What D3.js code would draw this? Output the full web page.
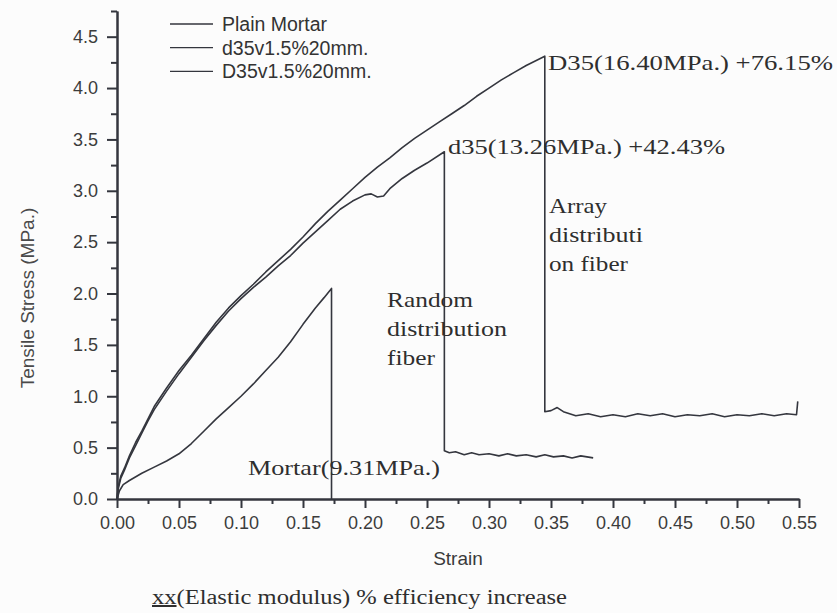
<!DOCTYPE html>
<html>
<head>
<meta charset="utf-8">
<script src="https://cdn.jsdelivr.net/npm/d3@7"></script>
<style>
  html, body { margin: 0; padding: 0; background: #fcfcfc; }
  svg { display: block; }
</style>
</head>
<body>
<svg id="chart" width="837" height="613"></svg>
<script>
// ── Data ─────────────────────────────────────────────
const mortarStrain = [0, 0.002, 0.005, 0.01, 0.02, 0.03, 0.04, 0.05, 0.06, 0.07, 0.08, 0.09, 0.10,
                      0.11, 0.12, 0.13, 0.14, 0.15, 0.16, 0.167, 0.173, 0.173];
const mortarStress = [0, 0.08, 0.14, 0.18, 0.25, 0.31, 0.37, 0.44, 0.54, 0.66, 0.78, 0.89, 1.00,
                      1.12, 1.25, 1.38, 1.53, 1.70, 1.86, 1.96, 2.05, 0];

const randomStrain = [0, 0.001, 0.003, 0.006, 0.01, 0.015, 0.02, 0.025, 0.03, 0.035, 0.04, 0.05,
                      0.06, 0.07, 0.08, 0.09, 0.10, 0.11, 0.12, 0.13, 0.14, 0.15, 0.16, 0.17,
                      0.18, 0.19, 0.20, 0.205, 0.21, 0.215, 0.22, 0.23, 0.24, 0.25, 0.264,
                      0.264, 0.268, 0.273, 0.28, 0.286, 0.292, 0.30, 0.308, 0.315, 0.322, 0.33,
                      0.338, 0.345, 0.352, 0.36, 0.367, 0.374, 0.384];
const randomStress = [0, 0.10, 0.20, 0.28, 0.40, 0.52, 0.64, 0.76, 0.87, 0.96, 1.05, 1.22,
                      1.38, 1.54, 1.69, 1.83, 1.95, 2.06, 2.16, 2.27, 2.37, 2.49, 2.60, 2.71,
                      2.82, 2.90, 2.96, 2.97, 2.94, 2.95, 3.02, 3.12, 3.20, 3.27, 3.38,
                      0.47, 0.45, 0.46, 0.43, 0.45, 0.43, 0.44, 0.42, 0.44, 0.42, 0.43,
                      0.41, 0.43, 0.41, 0.42, 0.40, 0.42, 0.40];

const arrayStrain = [0, 0.001, 0.003, 0.006, 0.01, 0.015, 0.02, 0.025, 0.03, 0.035, 0.04, 0.05,
                     0.06, 0.07, 0.08, 0.09, 0.10, 0.11, 0.12, 0.13, 0.14, 0.15, 0.16, 0.17,
                     0.18, 0.19, 0.20, 0.21, 0.22, 0.23, 0.24, 0.25, 0.26, 0.27, 0.28, 0.29,
                     0.30, 0.31, 0.32, 0.33, 0.345,
                     0.345, 0.35, 0.355, 0.36, 0.365, 0.37, 0.38, 0.39, 0.40, 0.41, 0.42, 0.43,
                     0.44, 0.45, 0.46, 0.47, 0.48, 0.49, 0.50, 0.51, 0.52, 0.53, 0.54, 0.548, 0.549];
const arrayStress = [0, 0.12, 0.22, 0.30, 0.42, 0.55, 0.66, 0.78, 0.90, 0.99, 1.08, 1.25,
                     1.40, 1.56, 1.72, 1.86, 1.98, 2.09, 2.21, 2.32, 2.43, 2.55, 2.68, 2.80,
                     2.91, 3.02, 3.13, 3.23, 3.32, 3.42, 3.51, 3.59, 3.67, 3.75, 3.83, 3.92,
                     4.00, 4.08, 4.15, 4.22, 4.31,
                     0.85, 0.86, 0.89, 0.85, 0.83, 0.81, 0.83, 0.80, 0.82, 0.80, 0.83, 0.81,
                     0.83, 0.80, 0.82, 0.81, 0.83, 0.80, 0.82, 0.81, 0.83, 0.81, 0.83, 0.82, 0.95];

const seriesNames = ['Plain Mortar', 'd35v1.5%20mm.', 'D35v1.5%20mm.'];

const xTicks = [0, 0.05, 0.10, 0.15, 0.20, 0.25, 0.30, 0.35, 0.40, 0.45, 0.50, 0.55];
const xMinor = [0.025, 0.075, 0.125, 0.175, 0.225, 0.275, 0.325, 0.375, 0.425, 0.475, 0.525];
const yTicks = [0, 0.5, 1.0, 1.5, 2.0, 2.5, 3.0, 3.5, 4.0, 4.5];
const yMinor = [0.25, 0.75, 1.25, 1.75, 2.25, 2.75, 3.25, 3.75, 4.25, 4.75];

// ── Layout ───────────────────────────────────────────
const X0 = 117, X1 = 799, Y0 = 499, Y1 = 11;
const INK = '#34363e';
const LABEL = '#3c3c3c';

const svg = d3.select('#chart');

const x = d3.scaleLinear().domain([0, 0.55]).range([X0, X1]);
const y = d3.scaleLinear().domain([0, 4.75]).range([Y0, Y1]);

// ── Axes ─────────────────────────────────────────────
function styleAxis(g) {
  g.selectAll('path.domain').attr('stroke', INK).attr('stroke-width', 2);
  g.selectAll('.tick line').attr('stroke', INK).attr('stroke-width', 2);
  g.selectAll('.tick text')
    .attr('fill', LABEL)
    .attr('font-family', 'Liberation Sans, Arial, sans-serif')
    .attr('font-size', 18);
}

// minor ticks first, majors on top
svg.append('g')
  .attr('transform', `translate(0,${Y0})`)
  .call(d3.axisBottom(x).tickValues(xMinor).tickSize(5).tickSizeOuter(0).tickFormat(''))
  .call(styleAxis);
svg.append('g')
  .attr('transform', `translate(${X0},0)`)
  .call(d3.axisLeft(y).tickValues(yMinor).tickSize(6).tickSizeOuter(0).tickFormat(''))
  .call(styleAxis);

svg.append('g')
  .attr('transform', `translate(0,${Y0})`)
  .call(d3.axisBottom(x).tickValues(xTicks).tickSize(9).tickSizeOuter(0)
        .tickPadding(8).tickFormat(d3.format('.2f')))
  .call(styleAxis);
svg.append('g')
  .attr('transform', `translate(${X0},0)`)
  .call(d3.axisLeft(y).tickValues(yTicks).tickSize(10).tickSizeOuter(0)
        .tickPadding(9).tickFormat(d3.format('.1f')))
  .call(styleAxis);

// axis titles
svg.append('text')
  .attr('transform', `translate(34,298) rotate(-90)`)
  .attr('text-anchor', 'middle')
  .attr('fill', '#4a4a4a')
  .attr('font-family', 'Liberation Sans, Arial, sans-serif')
  .attr('font-size', 19)
  .text('Tensile Stress (MPa.)');

svg.append('text')
  .attr('x', 458).attr('y', 565)
  .attr('text-anchor', 'middle')
  .attr('fill', '#3a3a3a')
  .attr('font-family', 'Liberation Sans, Arial, sans-serif')
  .attr('font-size', 19)
  .text('Strain');

// ── Curves ───────────────────────────────────────────
const line = d3.line().x(d => x(d[0])).y(d => y(d[1]));
const curves = [
  d3.zip(mortarStrain, mortarStress),
  d3.zip(randomStrain, randomStress),
  d3.zip(arrayStrain, arrayStress),
];

svg.append('g').selectAll('path')
  .data(curves)
  .join('path')
    .attr('d', line)
    .attr('fill', 'none')
    .attr('stroke', INK)
    .attr('stroke-width', 1.6)
    .attr('stroke-linejoin', 'round');

// ── Legend ───────────────────────────────────────────
const legend = svg.append('g').attr('transform', 'translate(170,24)');
seriesNames.forEach((name, i) => {
  const row = legend.append('g').attr('transform', `translate(0,${i * 23.7})`);
  row.append('line')
    .attr('x1', 0).attr('x2', 43)
    .attr('stroke', INK).attr('stroke-width', 1.3);
  row.append('text')
    .attr('x', 52).attr('y', 7)
    .attr('fill', '#333')
    .attr('font-family', 'Liberation Sans, Arial, sans-serif')
    .attr('font-size', 19.5)
    .text(name);
});

// ── Annotations (serif, wide) ────────────────────────
const notes = [
  { t: 'D35(16.40MPa.) +76.15%', x: 548, y: 70,  w: 285 },
  { t: 'd35(13.26MPa.) +42.43%', x: 448, y: 154, w: 277 },
  { t: 'Mortar(9.31MPa.)',       x: 248, y: 475, w: 192 },
  { t: 'Random',                 x: 387, y: 307, w: 86 },
  { t: 'distribution',           x: 387, y: 336, w: 120 },
  { t: 'fiber',                  x: 387, y: 365, w: 48 },
  { t: 'Array',                  x: 549, y: 213, w: 58 },
  { t: 'distributi',             x: 549, y: 242, w: 94 },
  { t: 'on fiber',               x: 549, y: 271, w: 79 },
];

svg.append('g').selectAll('text')
  .data(notes)
  .join('text')
    .attr('x', d => d.x).attr('y', d => d.y)
    .attr('fill', '#2e2e2e')
    .attr('font-family', 'Liberation Serif, Times New Roman, serif')
    .attr('font-size', 21)
    .attr('textLength', d => d.w)
    .attr('lengthAdjust', 'spacingAndGlyphs')
    .text(d => d.t);

// footer note
const foot = svg.append('text')
  .attr('x', 152).attr('y', 604)
  .attr('fill', '#2e2e2e')
  .attr('font-family', 'Liberation Serif, Times New Roman, serif')
  .attr('font-size', 20)
  .attr('textLength', 415)
  .attr('lengthAdjust', 'spacingAndGlyphs');
foot.append('tspan').attr('text-decoration', 'underline').text('xx');
foot.append('tspan').text('(Elastic modulus) % efficiency increase');
</script>
</body>
</html>
